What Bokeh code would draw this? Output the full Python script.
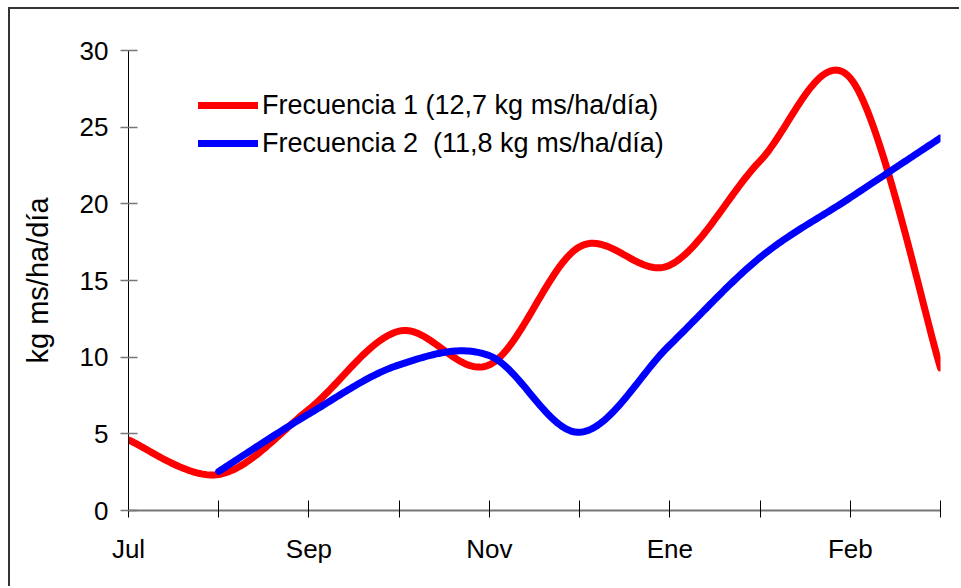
import numpy as np
from bokeh.plotting import figure
from bokeh.models import FixedTicker, Legend, LegendItem, Range1d
from bokeh.embed import file_html
from bokeh.resources import INLINE

# ---- data ----
x_labels = ["Jul", "", "Sep", "", "Nov", "", "Ene", "", "Feb", ""]
x_index = list(range(len(x_labels)))
freq1 = [4.6, 2.35, 6.6, 11.7, 9.5, 17.2, 16.0, 22.8, 28.2, 9.3]
freq2_index = [1, 2, 3, 4, 5, 6, 7, 8, 9]
freq2 = [2.55, 6.3, 9.5, 10.1, 5.1, 10.8, 16.5, 20.4, 24.3]
y_ticks = [0, 5, 10, 15, 20, 25, 30]
label1 = "Frecuencia 1 (12,7 kg ms/ha/día)"
label2 = "Frecuencia 2\u00a0 (11,8 kg ms/ha/día)"
y_title = "kg ms/ha/día"

FONT = "Liberation Sans"


def smooth(xs, ys, n=40):
    """Bezier smoothing through the points (Catmull-Rom style control points)."""
    P = np.column_stack([np.asarray(xs, float), np.asarray(ys, float)])
    m = len(P)
    t = np.linspace(0, 1, n)[:, None]
    out = []
    for i in range(m - 1):
        p0 = P[max(i - 1, 0)]
        p1 = P[i]
        p2 = P[i + 1]
        p3 = P[min(i + 2, m - 1)]
        c1 = p1 + (p2 - p0) / 6.0
        c2 = p2 - (p3 - p1) / 6.0
        seg = ((1 - t) ** 3) * p1 + 3 * ((1 - t) ** 2) * t * c1 + 3 * (1 - t) * t ** 2 * c2 + t ** 3 * p2
        out.append(seg if i == 0 else seg[1:])
    out = np.vstack(out)
    return out[:, 0], out[:, 1]


sx1, sy1 = smooth(x_index, freq1)
sx2, sy2 = smooth(freq2_index, freq2)

p = figure(width=951, height=579, output_backend="svg", toolbar_location=None,
           x_range=Range1d(0, 9), y_range=Range1d(0, 30),
           min_border_left=118, min_border_right=21, min_border_top=41, min_border_bottom=78)
p.margin = (7, 0, 0, 8)
p.styles = {"border-top": "2px solid #333333", "border-left": "2px solid #333333"}
p.outline_line_color = None
p.xgrid.visible = False
p.ygrid.visible = False
p.background_fill_color = "white"
p.border_fill_color = "white"

r1 = p.line(sx1, sy1, line_color="#FF0000", line_width=7, line_cap="round", line_join="round")
r2 = p.line(sx2, sy2, line_color="#0000FF", line_width=7, line_cap="round", line_join="round")

# y axis
yax = p.yaxis[0]
yax.ticker = FixedTicker(ticks=y_ticks)
yax.axis_line_color = "black"
yax.axis_line_width = 1
yax.major_tick_line_color = "#777777"
yax.major_tick_line_width = 1.5
yax.major_tick_in = 9
yax.major_tick_out = 8
yax.minor_tick_line_color = None
yax.major_label_text_font = FONT
yax.major_label_text_font_size = "26px"
yax.major_label_text_color = "black"
yax.major_label_standoff = 12
yax.axis_label = y_title
yax.axis_label_text_font = FONT
yax.axis_label_text_font_size = "29px"
yax.axis_label_text_font_style = "normal"
yax.axis_label_text_color = "black"
yax.axis_label_standoff = 23

# x axis
xax = p.xaxis[0]
xax.ticker = FixedTicker(ticks=x_index)
xax.major_label_overrides = {i: lab for i, lab in enumerate(x_labels)}
xax.axis_line_color = "#777777"
xax.axis_line_width = 2
xax.major_tick_line_color = "black"
xax.major_tick_line_width = 1
xax.major_tick_in = 10
xax.major_tick_out = 7
xax.minor_tick_line_color = None
xax.major_label_text_font = FONT
xax.major_label_text_font_size = "26px"
xax.major_label_text_color = "black"
xax.major_label_standoff = 16

legend = Legend(items=[LegendItem(label=label1, renderers=[r1]),
                       LegendItem(label=label2, renderers=[r2])],
                location=(70, 348), glyph_width=60, glyph_height=38, label_height=38,
                spacing=0, padding=0, margin=0, label_standoff=4,
                border_line_color=None, background_fill_alpha=0,
                label_text_font=FONT, label_text_font_size="27px", label_text_color="black")
p.add_layout(legend)

open("out.html", "w").write(file_html(p, INLINE))
